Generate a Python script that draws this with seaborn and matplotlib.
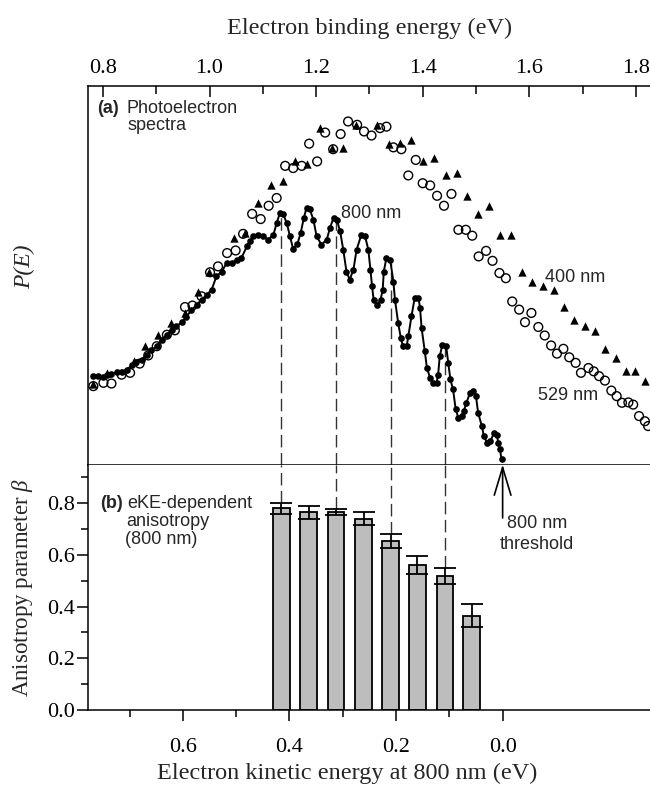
import numpy as np
import matplotlib
matplotlib.use('Agg')
import matplotlib.pyplot as plt
import seaborn as sns

# ---- panel (a): photoelectron spectra, binding energy (eV) vs P(E) (arb. units)
be_800 = [0.782, 0.791, 0.801, 0.807, 0.816, 0.826, 0.835, 0.845, 0.854, 0.863,
          0.873, 0.882, 0.891, 0.901, 0.910, 0.920, 0.929, 0.938, 0.948, 0.956,
          0.966, 0.976, 0.985, 0.995, 1.004, 1.013, 1.023, 1.032, 1.042, 1.051,
          1.060, 1.070, 1.076, 1.082, 1.091, 1.101, 1.110, 1.120, 1.126, 1.132,
          1.138, 1.145, 1.151, 1.157, 1.165, 1.171, 1.177, 1.182, 1.188, 1.195,
          1.201, 1.210, 1.220, 1.226, 1.233, 1.239, 1.245, 1.251, 1.257, 1.263,
          1.270, 1.276, 1.285, 1.292, 1.298, 1.302, 1.305, 1.308, 1.315, 1.321,
          1.325, 1.327, 1.332, 1.339, 1.345, 1.348, 1.354, 1.359, 1.363, 1.370,
          1.373, 1.379, 1.385, 1.392, 1.395, 1.398, 1.404, 1.408, 1.414, 1.420,
          1.426, 1.429, 1.432, 1.437, 1.444, 1.448, 1.452, 1.457, 1.462, 1.467,
          1.473, 1.477, 1.482, 1.489, 1.495, 1.500, 1.504, 1.511, 1.515, 1.521,
          1.527, 1.534, 1.539, 1.542, 1.545, 1.548]
p_800 = [23.9, 23.9, 23.7, 24.1, 24.6, 24.9, 24.9, 25.7, 26.8, 27.6,
         28.4, 29.7, 30.9, 32.0, 33.8, 35.1, 36.5, 37.4, 38.5, 39.9,
         41.7, 43.2, 44.6, 45.9, 47.3, 50.9, 52.2, 54.5, 54.5, 55.4,
         55.9, 59.0, 60.4, 61.7, 62.0, 61.7, 60.8, 62.2, 65.3, 68.0,
         67.8, 65.3, 61.7, 58.3, 59.7, 62.6, 66.7, 69.4, 69.1, 66.2,
         61.7, 59.5, 60.8, 64.0, 66.8, 66.2, 63.1, 58.1, 52.2, 50.0,
         52.7, 58.1, 62.2, 61.7, 58.1, 52.7, 48.2, 44.6, 43.2, 44.6,
         47.3, 52.2, 55.9, 55.4, 49.5, 44.6, 38.3, 34.2, 32.0, 32.0,
         34.7, 40.1, 45.1, 45.1, 42.4, 36.9, 30.6, 26.1, 23.4, 22.1,
         22.1, 24.3, 29.3, 32.4, 32.0, 27.5, 23.0, 20.3, 14.9, 12.6,
         13.1, 14.4, 16.7, 19.4, 19.8, 18.5, 14.0, 10.4, 7.6, 5.9,
         6.3, 8.6, 8.1, 5.9, 4.1, 1.4]

be_400 = [0.782, 0.807, 0.859, 0.879, 0.903, 0.928, 0.954, 0.979, 0.999, 1.046,
          1.066, 1.091, 1.115, 1.138, 1.160, 1.183, 1.207, 1.230, 1.250, 1.275,
          1.315, 1.337, 1.357, 1.379, 1.401, 1.422, 1.443, 1.464, 1.484, 1.504,
          1.525, 1.545, 1.566, 1.586, 1.606, 1.626, 1.646, 1.665, 1.684, 1.704,
          1.723, 1.742, 1.762, 1.781, 1.798, 1.817]
p_400 = [21.9, 24.8, 27.9, 32.0, 34.9, 38.3, 41.0, 46.6, 52.0, 61.3,
         62.6, 70.7, 75.5, 76.8, 82.2, 81.4, 91.0, 85.6, 85.6, 91.9,
         91.9, 86.7, 86.9, 87.8, 82.0, 82.9, 78.4, 78.8, 72.7, 67.8,
         69.8, 62.0, 62.1, 52.2, 49.3, 48.2, 47.3, 42.6, 39.0, 37.4,
         36.0, 31.3, 28.8, 25.2, 25.2, 22.5]

be_529 = [0.782, 0.801, 0.816, 0.835, 0.851, 0.869, 0.885, 0.901, 0.920, 0.935,
          0.954, 0.968, 0.985, 1.001, 1.016, 1.033, 1.049, 1.063, 1.080, 1.096,
          1.111, 1.126, 1.142, 1.157, 1.173, 1.187, 1.202, 1.217, 1.232, 1.246,
          1.260, 1.277, 1.290, 1.304, 1.320, 1.332, 1.345, 1.360, 1.373, 1.387,
          1.400, 1.414, 1.427, 1.440, 1.454, 1.467, 1.481, 1.493, 1.505, 1.519,
          1.531, 1.544, 1.556, 1.568, 1.581, 1.592, 1.604, 1.617, 1.629, 1.641,
          1.652, 1.664, 1.675, 1.687, 1.697, 1.711, 1.721, 1.731, 1.742, 1.754,
          1.764, 1.774, 1.786, 1.795, 1.806, 1.817, 1.823]
p_529 = [21.2, 22.1, 21.9, 24.3, 24.8, 27.3, 29.5, 32.0, 35.1, 36.3,
         42.6, 43.0, 45.5, 52.0, 53.6, 57.2, 57.9, 62.4, 67.8, 66.4,
         70.0, 72.1, 80.8, 80.2, 80.8, 86.8, 82.0, 89.8, 85.3, 89.4,
         92.8, 91.9, 90.1, 89.0, 91.0, 91.4, 85.8, 85.3, 78.2, 82.4,
         76.1, 75.5, 72.7, 70.0, 73.2, 63.5, 63.5, 61.9, 56.3, 57.8,
         55.1, 51.8, 50.4, 44.1, 41.9, 38.5, 41.0, 37.2, 34.9, 32.2,
         30.0, 31.3, 29.0, 27.5, 24.8, 26.1, 25.2, 23.9, 22.7, 20.0,
         18.5, 16.7, 16.8, 16.2, 13.1, 11.7, 10.4]

# ---- panel (b): anisotropy parameter at 800 nm
eke_bars = [0.415, 0.364, 0.313, 0.261, 0.210, 0.160, 0.108, 0.058]
beta = [0.78, 0.765, 0.765, 0.74, 0.655, 0.56, 0.52, 0.365]
beta_err = [0.021, 0.025, 0.012, 0.025, 0.027, 0.034, 0.031, 0.044]
dashed_bars = [0, 2, 4, 6]

photon_800 = 1.55  # eV

sns.set_theme(style='ticks')
plt.rcParams['font.family'] = ['Liberation Serif', 'DejaVu Serif']
plt.rcParams['mathtext.fontset'] = 'custom'
plt.rcParams['mathtext.rm'] = 'Liberation Serif'
plt.rcParams['mathtext.it'] = 'Liberation Serif:italic'

W, H = 650, 787
fig = plt.figure(figsize=(6.5, 7.87), dpi=100)


def box(x0, y0, x1, y1):
    return [x0 / W, 1 - y1 / H, (x1 - x0) / W, (y1 - y0) / H]


def fx(px):
    return px / W


def fy(py):
    return 1 - py / H


ax1 = fig.add_axes(box(88, 86, 652, 464.5))
ax2 = fig.add_axes(box(88, 464.5, 652, 710))

# Panel (a)
sns.scatterplot(x=be_529, y=p_529, marker='o', s=40, color='black',
                linewidth=1.0, ax=ax1, zorder=2)
circ = ax1.collections[-1]
circ.set_facecolor('none')
circ.set_edgecolor('black')
sns.scatterplot(x=be_400, y=p_400, marker='^', s=36, color='black',
                edgecolor='black', linewidth=0, ax=ax1, zorder=3)
sns.lineplot(x=be_800, y=p_800, sort=False, estimator=None, color='black',
             lw=1.4, marker='o', markersize=4.8, markeredgewidth=0,
             ax=ax1, zorder=4)

dash_ke = [eke_bars[i] for i in dashed_bars]
dash_be = [photon_800 - k for k in dash_ke]
dash_top = np.interp(dash_be, be_800, p_800)
ax1.vlines(dash_be, 0, dash_top, colors='#333333', linestyles=(0, (9, 4)),
           lw=1.0, zorder=1)

ax1.set_xlim(0.772, 1.8303)
ax1.set_ylim(0, 102.4)
ax1.set_xticks([0.8, 1.0, 1.2, 1.4, 1.6, 1.8])
ax1.set_xticklabels(['0.8', '1.0', '1.2', '1.4', '1.6', '1.8'])
ax1.set_xticks([0.9, 1.1, 1.3, 1.5, 1.7], minor=True)
ax1.set_yticks([])
ax1.tick_params(axis='x', which='both', top=True, bottom=False, labeltop=True,
                labelbottom=False, direction='in', width=1.1, labelsize=16,
                pad=6, colors='black')
ax1.tick_params(axis='x', which='major', length=8)
ax1.tick_params(axis='x', which='minor', length=6)
ax1.xaxis.set_label_position('top')
ax1.set_xlabel('Electron binding energy (eV)', fontsize=17.5)
ax1.xaxis.set_label_coords(0.5, 1.137)
ax1.set_ylabel('P(E)', fontsize=17, fontstyle='italic')
ax1.yaxis.set_label_coords(-0.094, 0.522)
ax1.spines['right'].set_visible(False)
for s in ['left', 'top', 'bottom']:
    ax1.spines[s].set_linewidth(1.1)
    ax1.spines[s].set_color('black')

# Panel (b)
sns.barplot(x=eke_bars, y=beta, native_scale=True, orient='x', width=0.62,
            color='#bdbdbd', saturation=1, edgecolor='black', linewidth=1.3,
            errorbar=None, ax=ax2, zorder=2)
ax2.errorbar(eke_bars, beta, yerr=beta_err, fmt='none', ecolor='black',
             elinewidth=1.3, capsize=8, capthick=1.3, zorder=3)

ytop = 0.95
ax2.vlines(dash_ke, [beta[i] + beta_err[i] for i in dashed_bars], ytop,
           colors='#333333', linestyles=(0, (9, 4)), lw=1.0, zorder=1)

ax2.annotate('', xy=(0.0, ytop), xytext=(0.0, 0.743),
             arrowprops=dict(arrowstyle='->,head_length=1.0,head_width=0.3',
                             color='black', lw=1.2, mutation_scale=20,
                             shrinkA=0, shrinkB=0),
             annotation_clip=False)

ax2.set_xlim(0.778, -0.2803)
ax2.set_ylim(0, ytop)
ax2.set_xticks([0.6, 0.4, 0.2, 0.0])
ax2.set_xticklabels(['0.6', '0.4', '0.2', '0.0'])
ax2.set_xticks([0.7, 0.5, 0.3, 0.1], minor=True)
ax2.set_yticks([0.0, 0.2, 0.4, 0.6, 0.8])
ax2.set_yticklabels(['0.0', '0.2', '0.4', '0.6', '0.8'])
ax2.set_yticks([0.1, 0.3, 0.5, 0.7, 0.9], minor=True)
ax2.tick_params(axis='both', which='both', direction='out', width=1.1,
                labelsize=16, colors='black')
ax2.tick_params(axis='both', which='major', length=8)
ax2.tick_params(axis='both', which='minor', length=5)
ax2.tick_params(axis='x', which='major', pad=12)
ax2.tick_params(axis='y', which='major', pad=1)
ax2.set_xlabel('Electron kinetic energy at 800 nm (eV)', fontsize=17.5)
ax2.xaxis.set_label_coords(0.46, -0.215)
ax2.set_ylabel(r'Anisotropy parameter $\beta$', fontsize=16.5)
ax2.yaxis.set_label_coords(-0.094, 0.5)
ax2.spines['right'].set_visible(False)
ax2.spines['top'].set_visible(False)
for s in ['left', 'bottom']:
    ax2.spines[s].set_linewidth(1.1)
    ax2.spines[s].set_color('black')

# annotations
sans = ['Liberation Sans', 'DejaVu Sans']
fs = 13
fig.text(fx(97), fy(113), '(a)', fontweight='bold', family=sans, fontsize=fs, va='baseline')
fig.text(fx(127), fy(113), 'Photoelectron', family=sans, fontsize=fs, va='baseline')
fig.text(fx(127), fy(130), 'spectra', family=sans, fontsize=fs, va='baseline')
fig.text(fx(341), fy(218), '800 nm', family=sans, fontsize=fs, va='baseline')
fig.text(fx(545), fy(282), '400 nm', family=sans, fontsize=fs, va='baseline')
fig.text(fx(538), fy(400), '529 nm', family=sans, fontsize=fs, va='baseline')
fig.text(fx(100), fy(508), '(b)', fontweight='bold', family=sans, fontsize=fs, va='baseline')
fig.text(fx(127), fy(508), 'eKE-dependent', family=sans, fontsize=fs, va='baseline')
fig.text(fx(126), fy(526), 'anisotropy', family=sans, fontsize=fs, va='baseline')
fig.text(fx(125), fy(544), '(800 nm)', family=sans, fontsize=fs, va='baseline')
fig.text(fx(507), fy(528), '800 nm', family=sans, fontsize=fs, va='baseline')
fig.text(fx(500), fy(549), 'threshold', family=sans, fontsize=fs, va='baseline')

fig.savefig('out.png', dpi=100)
